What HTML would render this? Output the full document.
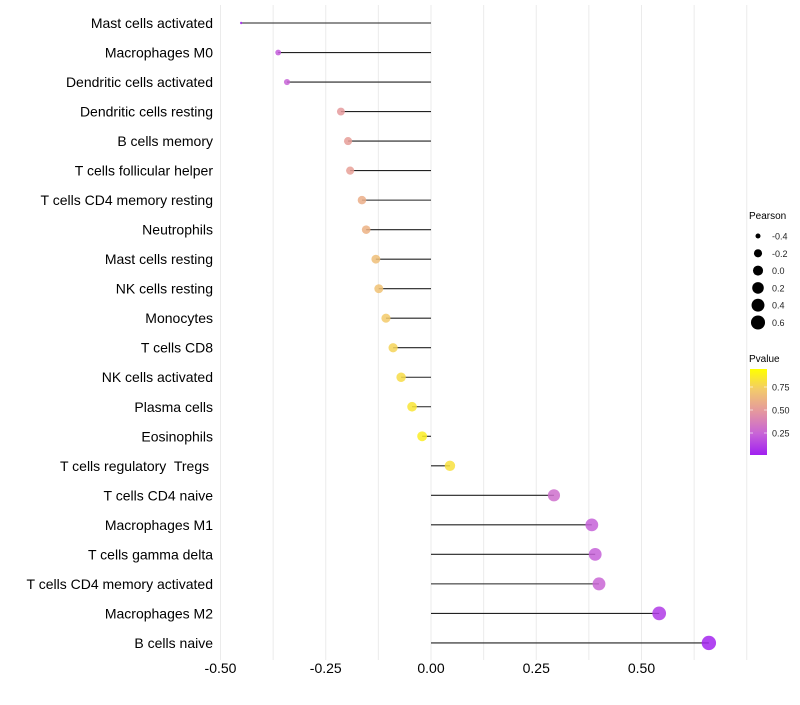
<!DOCTYPE html>
<html><head><meta charset="utf-8"><style>
body{margin:0;background:#fff;font-family:"Liberation Sans",sans-serif;}
svg text{font-family:"Liberation Sans",sans-serif;white-space:pre;}
</style></head><body>
<svg id="chart" width="800" height="700"></svg>
<script>
const categories=["Mast cells activated","Macrophages M0","Dendritic cells activated","Dendritic cells resting","B cells memory","T cells follicular helper","T cells CD4 memory resting","Neutrophils","Mast cells resting","NK cells resting","Monocytes","T cells CD8","NK cells activated","Plasma cells","Eosinophils","T cells regulatory  Tregs ","T cells CD4 naive","Macrophages M1","T cells gamma delta","T cells CD4 memory activated","Macrophages M2","B cells naive"];
const pearson=[-0.451,-0.363,-0.342,-0.214,-0.197,-0.192,-0.164,-0.154,-0.131,-0.124,-0.107,-0.090,-0.071,-0.045,-0.021,0.045,0.292,0.382,0.390,0.399,0.542,0.660];
const pvalue=[0.03,0.22,0.25,0.52,0.54,0.55,0.62,0.64,0.70,0.72,0.76,0.80,0.84,0.88,0.92,0.86,0.30,0.24,0.24,0.26,0.10,0.02];
const xTicks=[-0.5,-0.25,0,0.25,0.5];
const xTickLabels=["-0.50","-0.25","0.00","0.25","0.50"];
const sizeLegend=[-0.4,-0.2,0.0,0.2,0.4,0.6];
const colorLegend=[0.25,0.5,0.75];

const NS="http://www.w3.org/2000/svg";
const svg=document.getElementById('chart');
function mk(t,a,p){const e=document.createElementNS(NS,t);for(const k in a)e.setAttribute(k,a[k]);(p||svg).appendChild(e);return e;}
const x=v=>431+v*421;
const y=i=>23+i*29.52;
const pmin=Math.min(...pearson),pmax=Math.max(...pearson);
const rad=v=>{const t=Math.max(0,Math.min(1,(v-pmin)/(pmax-pmin)));return 1.2*(1+5*Math.sqrt(t));};
const stops=[[0,[160,32,240]],[0.25,[200,100,215]],[0.5,[228,150,160]],[0.75,[242,200,110]],[1,[255,255,0]]];
function col(p){p=Math.max(0,Math.min(1,p));for(let i=0;i<stops.length-1;i++){const a=stops[i],b=stops[i+1];if(p<=b[0]){const t=(p-a[0])/(b[0]-a[0]);return 'rgb('+a[1].map((c,j)=>Math.round(c+(b[1][j]-c)*t)).join(',')+')';}}return 'rgb(255,255,0)';}

for(let v=-0.5;v<=0.75;v+=0.125){
 const g=mk('line',{x1:x(v),x2:x(v),y1:5,y2:660,stroke:'#ebebeb','stroke-width':1});
 
 
}
xTicks.forEach((v,i)=>{
 const t=mk('text',{x:x(v),y:673,'text-anchor':'middle','font-size':14,fill:'#000'});
 t.textContent=xTickLabels[i];
 
 
});
categories.forEach((c,i)=>{
 const t=mk('text',{x:213,y:y(i)+5,'text-anchor':'end','font-size':14,fill:'#000'});
 t.textContent=c;
 
 
 const l=mk('line',{x1:x(0),x2:x(pearson[i]),y1:y(i),y2:y(i),stroke:'#222','stroke-width':1.1});
 
 
 const d=mk('circle',{cx:x(pearson[i]),cy:y(i),r:rad(pearson[i]),fill:col(pvalue[i]),'fill-opacity':0.85});
 
 
});
const st=mk('text',{x:749,y:219,'font-size':10,fill:'#000'});st.textContent='Pearson';


sizeLegend.forEach((v,i)=>{
 const cy=236+i*17.3;
 const c=mk('circle',{cx:758,cy:cy,r:rad(v),fill:'#000'});
 
 
 const t=mk('text',{x:772,y:cy+3.5,'font-size':9,fill:'#222'});t.textContent=v.toFixed(1);
 
 
});
const ct=mk('text',{x:749,y:362,'font-size':10,fill:'#000'});ct.textContent='Pvalue';


const defs=mk('defs',{});
const lg=mk('linearGradient',{id:'pg',x1:0,y1:1,x2:0,y2:0},defs);
stops.forEach(s=>mk('stop',{offset:s[0],'stop-color':col(s[0])},lg));
const cb=mk('rect',{x:750,y:369,width:17,height:86,fill:'url(#pg)'});


const cy0=456,cy1=364;
colorLegend.forEach(v=>{
 const yy=cy0+(cy1-cy0)*v;
 mk('line',{x1:750,x2:753,y1:yy,y2:yy,stroke:'#fff','stroke-opacity':0.6});
 mk('line',{x1:764,x2:767,y1:yy,y2:yy,stroke:'#fff','stroke-opacity':0.6});
 const t=mk('text',{x:772,y:yy+3.5,'font-size':9,fill:'#222'});t.textContent=v.toFixed(2);
 
 
});
</script>
</body></html>
